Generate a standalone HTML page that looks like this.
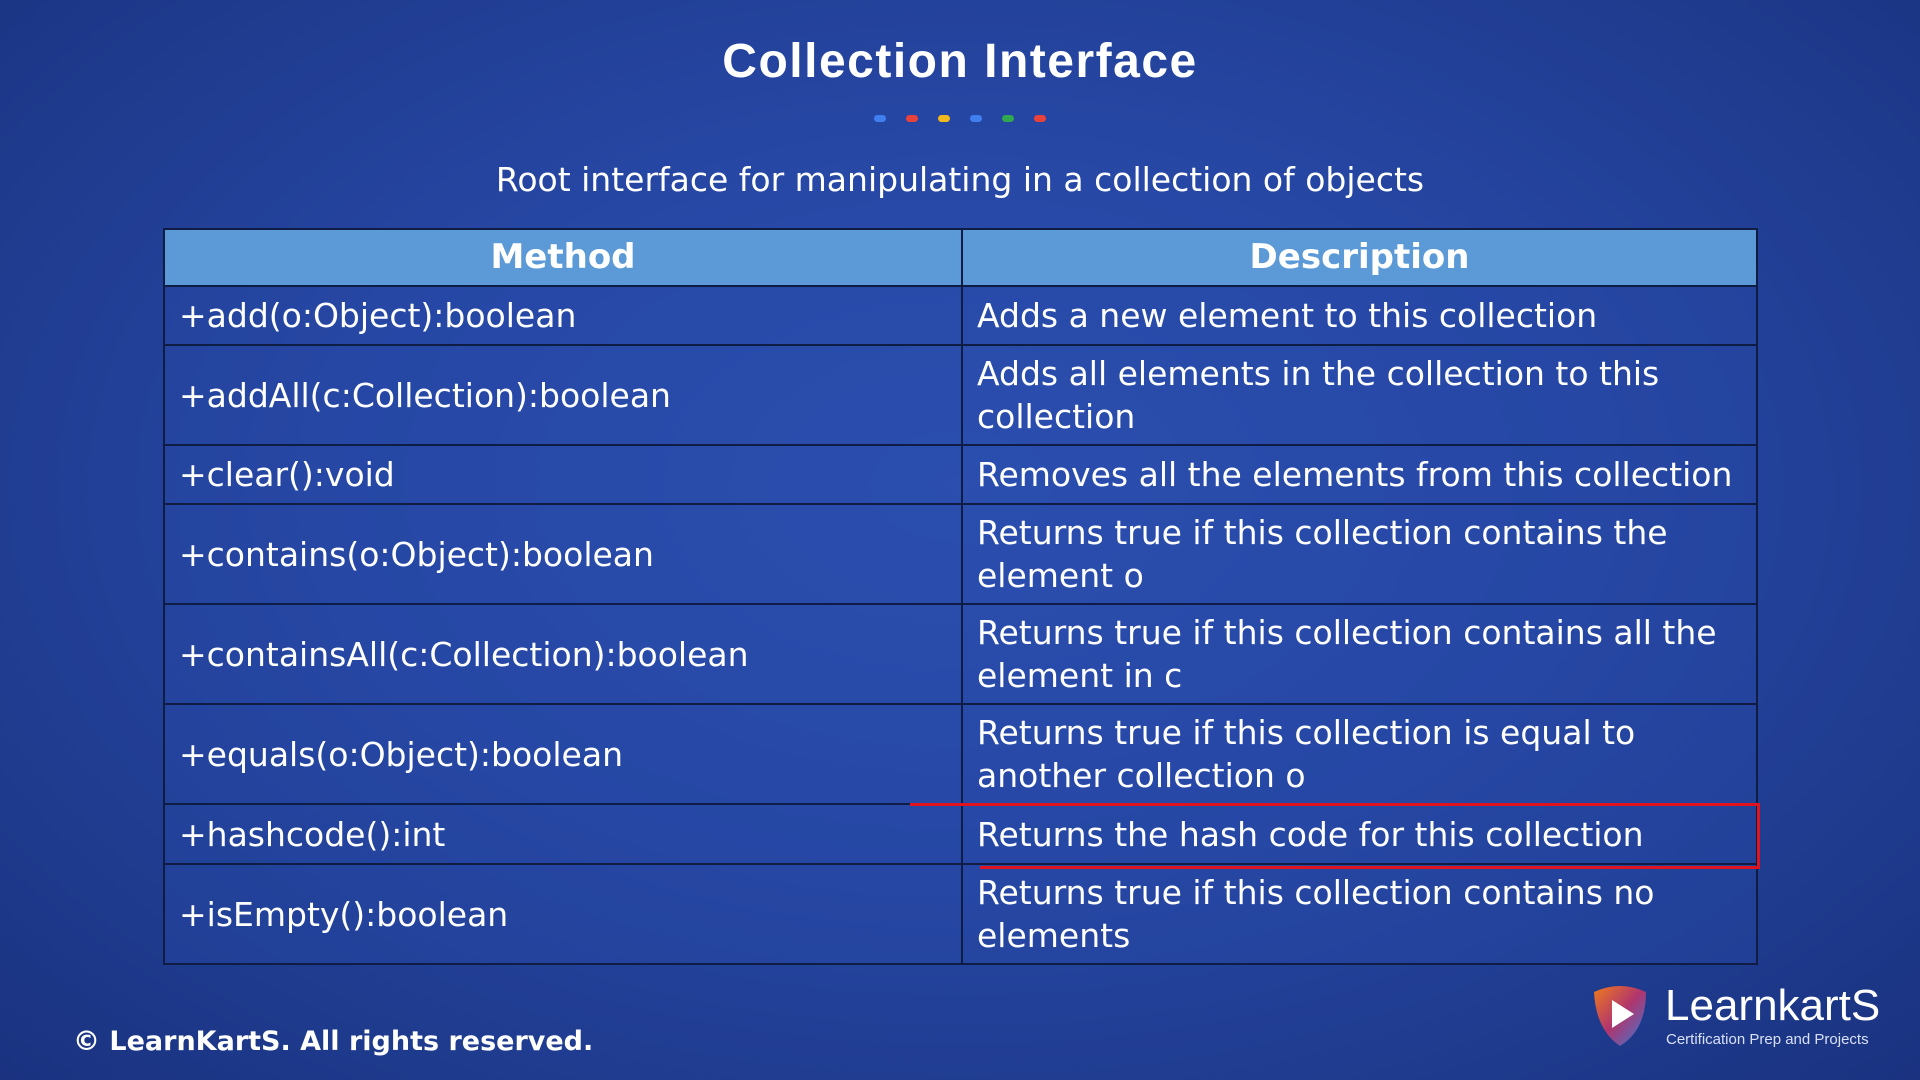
<!DOCTYPE html>
<html><head><meta charset="utf-8"><style>
html,body{margin:0;padding:0}
body{width:1920px;height:1080px;overflow:hidden;position:relative;font-family:"Liberation Sans","DejaVu Sans",sans-serif;color:#fff;
background:radial-gradient(ellipse at 50% 45%,#2d51b2 0%,#2646a3 45%,#1e3a8c 80%,#1a3280 100%);}
.title{position:absolute;top:34px;left:0;width:1920px;text-align:center;font-size:48px;font-weight:bold;letter-spacing:1.5px}
.dots{position:absolute;top:115px;left:874px;width:172px;height:8px}
.dots span{position:absolute;top:0;width:12px;height:7px;border-radius:4px}
.sub{position:absolute;top:160px;left:0;width:1920px;text-align:center;font-size:33px;font-family:"DejaVu Sans","Liberation Sans",sans-serif}
table{position:absolute;left:163px;top:228px;width:1595px;border-collapse:collapse;font-family:"DejaVu Sans","Liberation Sans",sans-serif}
td,th{border:2px solid #0f1c44;padding:0 0 0 14px;font-size:33px;text-align:left;line-height:43px;background:rgba(40,75,170,0.35)}
th{background:#5b9ad6;text-align:center;font-weight:bold;height:55px;padding:0;font-size:34px}
td.m{width:782px}
.foot{position:absolute;left:73px;top:1026px;font-size:27px;font-weight:bold;font-family:"DejaVu Sans","Liberation Sans",sans-serif}
.red{position:absolute;background:#e0141e}
</style></head><body>
<div class="title">Collection Interface</div>
<div class="dots">
<span style="left:0;background:#3f7ff0"></span><span style="left:32px;background:#e8423a"></span><span style="left:64px;background:#f2b81c"></span><span style="left:96px;background:#3f7ff0"></span><span style="left:128px;background:#2fa84f"></span><span style="left:160px;background:#e8423a"></span>
</div>
<div class="sub">Root interface for manipulating in a collection of objects</div>
<table>
<tr style="height:57px"><th>Method</th><th>Description</th></tr>
<tr style="height:59px"><td class="m">+add(o:Object):boolean</td><td>Adds a new element to this collection</td></tr>
<tr style="height:100px"><td class="m">+addAll(c:Collection):boolean</td><td>Adds all elements in the collection to this collection</td></tr>
<tr style="height:59px"><td class="m">+clear():void</td><td>Removes all the elements from this collection</td></tr>
<tr style="height:100px"><td class="m">+contains(o:Object):boolean</td><td>Returns true if this collection contains the element o</td></tr>
<tr style="height:100px"><td class="m">+containsAll(c:Collection):boolean</td><td>Returns true if this collection contains all the element in c</td></tr>
<tr style="height:100px"><td class="m">+equals(o:Object):boolean</td><td>Returns true if this collection is equal to another collection o</td></tr>
<tr style="height:60px"><td class="m">+hashcode():int</td><td>Returns the hash code for this collection</td></tr>
<tr style="height:100px"><td class="m">+isEmpty():boolean</td><td>Returns true if this collection contains no elements</td></tr>
</table>
<div class="red" style="left:910px;top:803px;width:850px;height:3px"></div>
<div class="red" style="left:980px;top:866px;width:780px;height:3px"></div>
<div class="red" style="left:1757px;top:803px;width:3px;height:66px"></div>
<div class="foot">© LearnKartS. All rights reserved.</div>
<svg style="position:absolute;left:1590px;top:982px" width="300" height="70">
<defs><linearGradient id="g" x1="0" y1="0" x2="1" y2="1"><stop offset="0" stop-color="#f07a1c"/><stop offset="0.5" stop-color="#b0356e"/><stop offset="1" stop-color="#3a7ad8"/></linearGradient></defs>
<path d="M4 10 Q30 -2 56 10 Q56 48 30 64 Q6 48 4 10Z" fill="url(#g)"/>
<path d="M22 18 L44 32 L22 46Z" fill="#fff"/>
<text x="75" y="38" font-size="44" fill="#fff" font-family="Liberation Sans,sans-serif">LearnkartS</text>
<text x="76" y="62" font-size="15" fill="#d8e0f5" font-family="Liberation Sans,sans-serif">Certification Prep and Projects</text>
</svg>
</body></html>
